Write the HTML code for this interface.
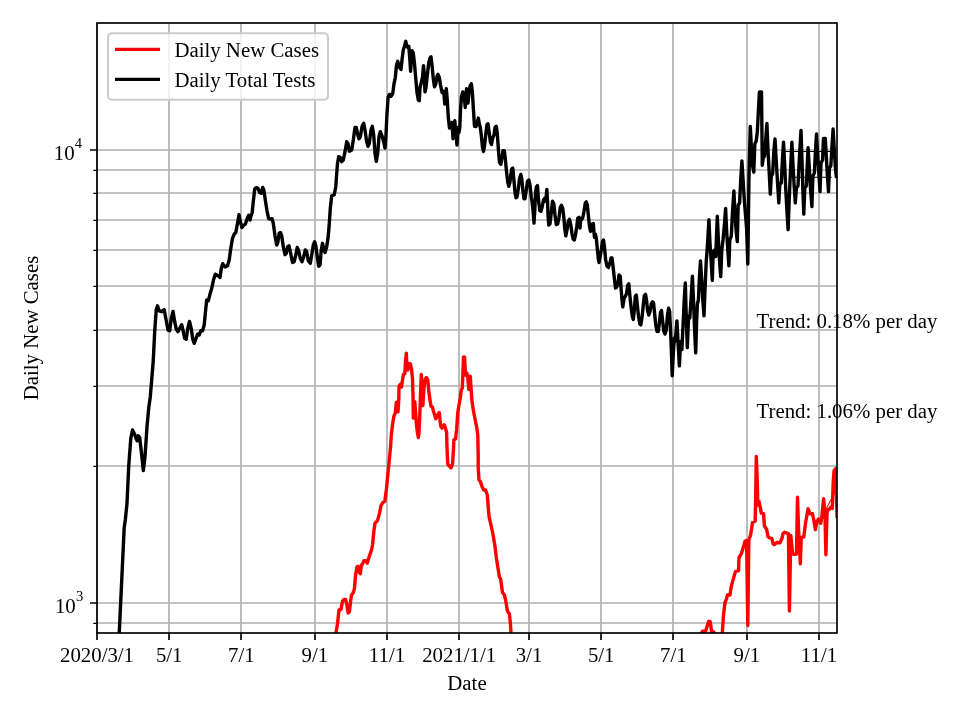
<!DOCTYPE html>
<html><head><meta charset="utf-8"><title>Daily New Cases and Daily Total Tests</title>
<style>html,body{margin:0;padding:0;background:#fff}svg{display:block}</style></head>
<body>
<svg width="960" height="720" viewBox="0 0 960 720" font-family='"Liberation Serif", "DejaVu Serif", serif' font-size="20.83px" fill="#000">
<rect width="960" height="720" fill="#fff"/>
<defs><clipPath id="ax"><rect x="97.0" y="23.0" width="740.0" height="610.0"/></clipPath></defs>
<path d="M97 23.0V633.0M169 23.0V633.0M241 23.0V633.0M315 23.0V633.0M387 23.0V633.0M459 23.0V633.0M529 23.0V633.0M601 23.0V633.0M673 23.0V633.0M747 23.0V633.0M819 23.0V633.0M97.0 603H837.0M97.0 150H837.0M97.0 623H837.0M97.0 466H837.0M97.0 386H837.0M97.0 330H837.0M97.0 286H837.0M97.0 250H837.0M97.0 220H837.0M97.0 193H837.0M97.0 170H837.0" stroke="#b0b0b0" stroke-width="1.67" fill="none"/>
<g clip-path="url(#ax)" fill="none" stroke-linejoin="round" stroke-linecap="butt">
<path d="M335.5 636.0L336.0 632.5L337.5 623.8L339.0 610.0L341.0 609.4L342.5 601.3L344.0 599.4L345.6 599.4L346.9 605.0L348.1 613.1L349.4 611.9L350.6 601.3L351.5 595.0L353.1 593.1L354.4 588.8L355.6 575.0L356.9 566.9L357.8 566.3L359.0 571.9L360.3 573.8L361.3 565.6L362.5 563.8L364.0 560.6L365.6 560.6L367.3 563.1L368.5 558.8L370.0 554.4L371.5 550.0L372.5 545.0L374.0 530.0L375.0 523.1L377.5 520.6L379.4 513.8L381.0 505.6L382.8 502.5L384.8 501.3L386.3 490.0L387.8 475.0L389.4 458.8L390.6 446.3L391.3 435.0L392.5 425.0L393.8 416.3L395.3 413.1L396.3 402.5L397.3 401.9L398.0 411.9L398.8 398.8L399.0 386.3L400.3 384.4L401.5 386.9L402.5 380.0L403.5 374.4L404.8 373.8L405.5 361.3L406.3 353.2L407.0 368.8L407.8 370.0L409.0 363.8L410.3 363.8L411.5 368.8L412.5 378.8L413.0 395.0L413.3 418.1L414.0 401.3L414.8 401.9L415.6 412.5L416.5 425.0L417.5 433.0L418.3 437.5L419.0 433.0L419.8 415.0L420.5 395.0L421.3 374.4L422.0 386.3L422.8 405.6L423.5 395.0L424.3 385.0L425.3 378.8L426.5 377.5L427.8 380.0L428.8 391.3L430.0 400.0L431.0 406.3L432.3 406.9L433.5 411.3L434.8 415.6L435.8 418.8L437.0 416.3L438.3 413.8L439.3 412.5L440.0 420.0L440.8 426.3L442.0 428.1L443.3 426.3L444.3 424.8L445.5 428.5L446.6 432.5L446.9 445.0L447.4 457.0L447.9 464.5L449.4 466.0L451.0 467.8L452.5 464.0L453.4 451.3L453.9 440.0L455.6 438.8L456.6 429.4L457.8 412.5L459.0 405.0L460.3 397.5L461.3 390.0L462.3 388.1L463.0 370.0L463.5 356.9L464.5 356.9L465.3 371.3L466.0 375.6L466.8 373.1L467.8 377.5L468.8 389.4L469.5 377.5L470.3 376.3L471.0 387.5L472.0 401.3L473.3 410.0L474.5 416.3L476.0 423.8L476.9 428.0L477.8 435.6L478.2 455.0L478.2 467.5L479.0 480.0L480.6 481.9L481.9 486.3L483.8 490.0L485.6 490.0L487.3 495.0L488.1 505.0L489.0 516.3L491.3 526.3L493.1 535.0L494.8 545.0L496.3 557.5L499.4 576.9L500.6 578.8L502.5 592.5L504.4 595.0L505.6 600.0L507.5 611.3L509.4 613.8L510.3 622.5L511.0 632.5L511.3 636.0M701.0 636.0L701.9 632.5L702.5 631.3L705.6 631.3L707.5 625.0L708.8 621.3L710.3 621.9L711.5 631.3L713.8 631.9L715.0 636.0L721.8 636.0L722.3 632.5L723.5 615.0L725.0 602.5L726.5 598.8L727.5 595.0L730.0 595.0L731.3 586.3L732.5 581.9L734.4 575.0L735.6 571.3L738.5 570.6L739.0 557.5L741.3 553.8L742.5 550.0L744.0 545.0L745.0 541.3L746.6 540.5L747.8 625.6L748.8 540.0L750.6 535.0L752.5 522.5L755.2 521.3L755.7 495.0L756.3 456.4L757.3 482.5L757.8 505.0L759.0 501.3L760.3 507.5L761.3 513.1L763.6 513.6L764.4 526.0L766.6 529.2L768.1 536.9L770.0 538.1L771.9 538.4L773.1 543.8L774.2 544.8L776.9 542.5L780.0 542.8L781.9 538.5L783.1 533.5L784.5 532.3L788.4 533.5L789.4 611.0L790.8 535.4L792.6 553.3L793.8 554.4L796.5 554.0L797.5 497.2L798.6 530.0L800.3 563.8L801.3 537.5L803.8 536.9L805.6 522.5L808.1 508.8L810.0 513.8L812.5 513.8L813.8 520.0L815.4 529.6L817.0 521.5L818.4 519.0L820.8 523.3L822.0 515.0L823.6 498.8L824.9 512.0L825.9 554.7L827.0 513.0L828.0 509.6L829.6 509.2L831.0 507.0L832.3 508.5L833.2 482.0L834.1 470.5L835.7 468.6L837.1 518.0" stroke="#ff0000" stroke-width="3.4"/>
<path d="M119.2 634.0L124.2 527.5L125.3 520.0L127.0 503.3L128.7 466.7L130.8 438.3L132.5 430.0L134.7 434.2L136.3 439.2L137.2 440.8L138.3 435.8L139.7 437.5L141.7 455.0L143.3 470.6L145.0 456.7L147.0 426.7L148.7 408.3L150.3 396.7L151.7 380.0L153.3 360.0L154.7 331.7L156.2 310.0L157.5 305.8L159.2 310.8L161.7 311.7L164.2 309.7L165.8 318.3L168.0 330.0L169.7 330.8L171.3 318.3L173.0 311.4L174.7 321.7L176.3 329.2L178.0 331.7L179.7 328.3L181.7 324.7L183.3 331.7L184.7 338.3L186.2 339.2L187.8 328.3L189.5 321.4L191.2 328.3L192.8 339.2L194.2 343.3L195.8 339.2L197.5 334.2L199.2 335.0L200.8 330.8L202.5 330.8L204.2 325.0L205.5 311.7L206.7 300.0L208.3 300.8L210.0 294.2L211.7 288.3L213.7 279.2L215.3 274.2L218.0 275.8L220.0 277.5L221.3 268.3L222.7 263.7L225.0 267.0L227.5 265.8L229.2 260.0L230.8 248.3L232.5 238.3L234.2 234.2L235.8 232.5L237.5 223.3L239.0 214.7L240.3 221.7L242.0 227.5L243.7 225.0L245.3 224.2L247.0 219.2L248.7 215.3L250.0 220.0L251.0 215.8L252.2 212.5L253.3 201.7L254.7 189.2L256.3 187.5L258.0 188.3L259.7 192.5L261.3 193.3L262.7 187.5L263.8 190.0L265.3 200.0L267.0 210.8L268.7 218.7L270.3 219.2L272.0 218.7L273.3 223.3L275.0 235.8L276.7 245.0L277.8 242.5L279.2 233.3L280.5 232.5L281.7 235.8L283.3 246.7L285.0 254.7L286.3 253.3L287.7 246.7L289.0 245.8L290.5 252.5L292.5 262.5L294.2 261.7L295.8 255.0L297.2 247.5L298.7 250.8L300.3 258.3L302.0 261.7L303.7 256.7L305.3 250.0L306.7 251.7L308.3 260.8L310.3 263.3L311.7 255.0L313.3 245.0L314.7 241.7L316.0 246.7L317.5 258.3L318.7 266.3L320.0 265.0L321.3 250.0L322.5 243.3L323.7 248.3L325.0 252.5L326.7 246.7L328.0 238.3L329.2 225.0L330.3 208.3L331.7 195.8L334.2 195.0L335.8 186.7L336.6 175.0L337.5 163.3L338.7 156.7L340.3 157.5L341.7 161.7L343.3 160.0L345.0 151.7L346.7 141.7L348.0 143.3L349.3 151.3L351.7 150.0L353.3 140.0L355.0 127.5L356.3 127.5L357.7 134.2L359.0 138.7L360.3 136.7L362.0 126.7L363.7 123.3L365.0 130.0L366.7 141.7L368.0 146.3L369.3 143.3L371.0 130.0L372.3 126.3L373.7 135.0L375.0 153.3L376.3 161.4L377.7 153.3L379.0 136.7L380.3 131.7L382.0 135.8L383.7 141.7L385.0 148.1L386.0 135.0L386.9 115.0L388.1 97.5L389.4 94.4L391.0 96.3L392.8 93.1L394.0 83.8L395.3 77.5L396.5 65.0L397.8 61.3L399.4 67.5L401.0 69.4L402.0 60.0L403.3 50.0L404.5 46.3L405.8 41.3L406.8 46.3L407.8 47.5L408.8 46.3L409.8 58.8L410.6 71.2L411.3 60.0L412.0 50.6L413.3 53.1L414.5 63.8L415.8 78.8L417.0 92.5L418.3 100.0L419.3 100.6L420.0 87.5L421.3 82.5L422.5 77.5L423.5 65.7L424.3 75.0L425.0 91.9L426.0 87.5L427.3 75.0L428.8 62.5L430.0 58.1L431.0 56.9L432.0 65.0L433.3 78.8L434.5 86.9L435.8 83.8L437.0 76.3L438.0 74.4L439.3 77.5L440.5 85.0L442.0 92.5L443.3 91.3L444.0 95.0L444.8 104.1L445.5 95.0L446.3 88.8L447.3 100.5L448.3 117.5L449.5 128.1L450.8 126.9L452.0 122.5L453.0 138.7L453.8 128.8L454.8 120.7L455.8 132.5L457.0 145.0L458.0 127.5L459.0 132.5L459.8 127.5L460.5 110.0L461.5 96.3L462.8 91.9L464.0 95.0L465.3 107.5L466.0 96.3L466.5 88.8L467.5 98.8L468.0 103.1L469.0 92.5L470.0 86.3L471.3 83.8L472.3 91.3L473.3 107.5L474.5 126.3L476.0 126.5L477.3 122.5L478.3 118.1L479.3 123.8L480.3 127.5L481.3 135.0L482.5 147.5L483.5 151.5L484.5 146.3L485.8 133.8L487.0 124.4L488.0 123.8L489.3 133.8L490.5 142.5L491.5 144.4L492.8 137.5L494.0 135.0L495.0 127.5L496.3 126.3L497.3 133.8L498.5 151.0L499.5 162.5L500.8 164.4L502.0 157.5L503.0 150.6L504.3 150.8L505.3 158.8L506.5 171.3L507.8 182.5L508.8 186.3L509.8 183.1L510.8 175.0L511.8 168.8L512.8 168.1L513.8 178.8L515.0 192.5L516.0 197.8L517.0 196.9L518.3 188.8L519.5 178.8L520.8 174.4L521.8 178.8L522.8 190.0L524.0 198.8L525.0 198.8L526.3 190.0L527.5 181.3L528.8 180.0L530.0 185.0L531.3 197.5L532.0 201.3L533.0 210.0L534.0 223.1L534.8 210.0L535.5 192.5L536.5 186.9L537.5 185.6L538.5 200.0L539.8 210.6L541.0 211.3L542.3 206.3L543.5 200.0L544.8 198.1L545.8 201.3L546.8 189.4L547.5 200.0L548.0 215.0L548.8 225.0L550.0 223.8L551.3 212.5L552.5 201.3L553.8 203.8L555.0 215.0L556.3 224.6L557.7 224.0L559.0 217.5L560.2 207.8L561.4 205.3L562.7 208.2L563.8 217.0L564.8 229.0L565.8 235.9L567.0 230.0L568.3 221.3L569.5 219.4L570.8 225.0L572.0 233.8L573.3 239.4L574.3 240.0L575.5 235.0L576.8 226.3L577.8 218.1L579.0 217.3L580.0 228.1L580.8 218.8L581.8 219.4L582.8 217.5L584.0 211.3L585.3 203.1L586.3 201.9L587.3 205.0L588.3 215.0L589.5 226.3L590.5 231.3L591.5 230.0L592.5 223.8L593.3 223.5L594.0 232.5L594.5 237.3L595.3 233.8L596.3 238.1L597.3 248.8L598.3 258.8L599.0 262.5L600.0 257.5L601.3 250.0L602.5 241.3L603.5 240.0L604.5 247.5L605.6 259.5L606.9 265.8L608.4 267.5L609.7 263.8L611.0 258.0L612.0 258.0L613.0 266.0L614.2 277.0L615.5 288.1L616.8 286.9L618.0 283.8L619.0 275.0L620.3 276.3L621.0 287.5L622.0 300.0L622.8 306.9L624.0 298.8L625.3 296.3L626.5 293.8L627.8 285.0L628.8 283.8L629.8 295.0L631.0 306.3L632.3 316.3L633.3 319.4L634.3 310.0L635.3 296.3L636.3 295.0L637.3 305.0L638.5 316.3L639.8 323.8L640.8 325.0L642.0 317.5L643.3 305.0L644.3 295.6L645.5 294.4L646.5 300.0L647.5 310.0L648.8 315.0L650.0 311.3L651.3 303.8L652.5 301.9L653.5 302.5L654.5 312.5L655.8 325.0L657.0 331.5L658.3 331.5L659.3 323.8L660.5 312.5L661.5 310.6L662.5 320.0L663.8 331.0L665.0 334.0L666.3 330.0L667.5 315.0L668.6 308.3L669.6 311.0L670.4 327.0L671.3 348.0L672.2 375.8L673.4 352.0L674.4 338.0L675.3 341.0L676.9 320.9L678.2 345.0L679.4 365.8L680.6 341.4L681.9 349.6L683.2 322.0L684.2 300.0L685.3 282.9L686.3 318.0L687.3 347.6L688.6 316.0L689.8 318.0L691.0 300.0L692.4 276.2L693.5 300.0L694.6 330.0L695.7 352.9L696.6 322.0L697.4 304.0L698.4 300.0L699.4 278.0L700.5 260.9L701.7 280.0L702.8 300.0L704.0 315.8L705.0 290.0L706.2 262.0L707.5 245.0L708.9 219.7L710.1 245.0L711.2 262.0L712.3 280.4L713.2 252.0L714.6 250.0L715.7 256.6L717.3 216.3L718.4 240.0L719.6 262.0L720.7 276.6L721.8 250.0L723.0 240.0L724.4 225.0L725.6 208.4L726.7 232.0L727.8 250.0L728.9 265.8L729.8 240.0L731.3 236.0L732.6 210.0L733.9 190.9L735.0 215.0L736.2 232.0L737.3 241.6L738.2 205.0L739.6 203.0L740.7 180.0L741.9 160.9L743.1 180.0L744.3 200.0L745.5 215.0L746.6 228.0L747.8 264.1L749.0 175.0L750.3 126.4L751.5 150.0L752.6 166.0L753.8 172.2L754.8 144.0L756.2 141.0L757.3 132.0L758.2 115.0L759.4 92.0L761.5 92.0L762.3 165.4L763.2 158.0L764.6 156.0L765.8 138.0L766.9 123.4L768.0 150.0L769.2 172.0L770.3 194.1L771.3 176.0L772.6 174.0L773.8 152.0L775.0 139.0L776.2 160.0L777.5 182.0L778.8 202.9L779.8 184.0L781.3 183.0L782.4 160.0L783.5 142.2L784.7 165.0L785.8 190.0L787.0 212.0L788.1 229.6L789.2 200.0L790.4 172.0L791.9 142.2L793.0 165.0L794.1 185.0L795.3 202.9L796.4 188.0L798.0 186.0L799.4 158.0L801.0 130.4L802.0 160.0L802.9 190.0L803.8 214.1L804.8 188.0L806.4 186.0L807.2 165.0L808.1 147.8L809.4 170.0L810.6 190.0L811.9 206.6L812.9 176.0L814.4 173.0L815.4 152.0L816.5 134.0L817.7 155.0L818.9 175.0L820.0 191.6L821.0 163.0L822.6 160.0L823.5 138.4L825.3 138.4L826.4 158.0L827.4 176.0L828.5 191.6L829.4 168.0L830.8 166.0L832.0 146.0L833.1 129.0L834.3 150.0L835.4 168.0L836.5 178.0" stroke="#000" stroke-width="3.4"/>
<path d="M785 151.5H837M792.5 177.2H831.7" stroke="#000" stroke-width="1.04"/>
<path d="M821 518.6L836.5 489.5" stroke="#f00" stroke-width="1.04"/>
</g>
<path d="M97 633.0v7M169 633.0v7M241 633.0v7M315 633.0v7M387 633.0v7M459 633.0v7M529 633.0v7M601 633.0v7M673 633.0v7M747 633.0v7M819 633.0v7M97.0 603h-7M97.0 150h-7" stroke="#000" stroke-width="1.67" fill="none"/>
<path d="M97.0 623.4h-3.7M97.0 466.4h-3.7M97.0 386.4h-3.7M97.0 330.4h-3.7M97.0 286.4h-3.7M97.0 250.4h-3.7M97.0 220.4h-3.7M97.0 193.4h-3.7M97.0 170.4h-3.7" stroke="#000" stroke-width="1.25" fill="none"/>
<rect x="97.0" y="23.0" width="740.0" height="610.0" fill="none" stroke="#000" stroke-width="1.67"/>
<text x="97.0" y="662" text-anchor="middle">2020/3/1</text>
<text x="169.2" y="662" text-anchor="middle">5/1</text>
<text x="241.4" y="662" text-anchor="middle">7/1</text>
<text x="314.8" y="662" text-anchor="middle">9/1</text>
<text x="387.0" y="662" text-anchor="middle">11/1</text>
<text x="459.2" y="662" text-anchor="middle">2021/1/1</text>
<text x="529.0" y="662" text-anchor="middle">3/1</text>
<text x="601.2" y="662" text-anchor="middle">5/1</text>
<text x="673.4" y="662" text-anchor="middle">7/1</text>
<text x="746.8" y="662" text-anchor="middle">9/1</text>
<text x="819.0" y="662" text-anchor="middle">11/1</text>
<text x="54.9" y="613.4">10</text><text x="75.9" y="601.2" font-size="14.6px">3</text>
<text x="53.85" y="160.4">10</text><text x="74.8" y="148.2" font-size="14.6px">4</text>
<text x="467" y="690" text-anchor="middle">Date</text>
<text transform="translate(37.9 328) rotate(-90)" text-anchor="middle">Daily New Cases</text>
<text x="756.5" y="327.5">Trend: 0.18% per day</text>
<text x="756.5" y="417.5">Trend: 1.06% per day</text>
<rect x="108" y="33.3" width="220" height="66.4" rx="4" ry="4" fill="#fff" fill-opacity="0.8" stroke="#ccc" stroke-width="2.08"/>
<path d="M115 49.45H160" stroke="#f00" stroke-width="3.3"/>
<path d="M115 79.45H160" stroke="#000" stroke-width="3.3"/>
<text x="174.4" y="56.5">Daily New Cases</text>
<text x="174.4" y="87">Daily Total Tests</text>
</svg>
</body></html>
